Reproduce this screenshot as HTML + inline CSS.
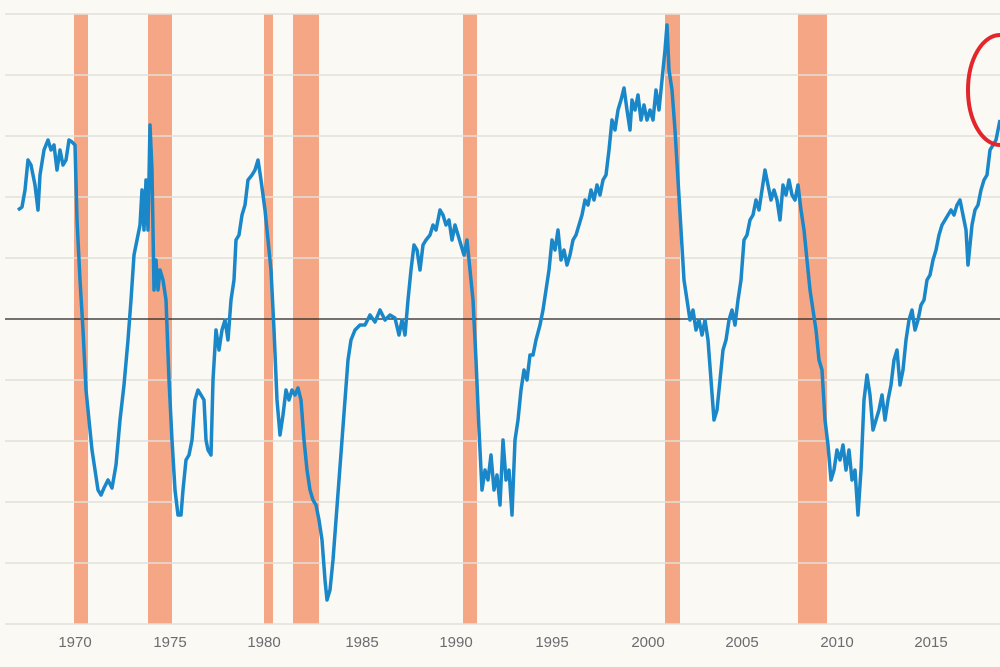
<!DOCTYPE html>
<html><head><meta charset="utf-8"><style>
html,body{margin:0;padding:0;background:#fbf9f4;}
svg{display:block;}
text{font-family:"Liberation Sans",sans-serif;font-size:15px;fill:#6b6b70;}
</style></head><body>
<svg width="1000" height="667" viewBox="0 0 1000 667">
<rect width="1000" height="667" fill="#fbf9f4"/>
<g fill="#f5a785">
<rect x="74" y="14" width="14" height="610"/>
<rect x="148" y="14" width="24" height="610"/>
<rect x="264" y="14" width="9" height="610"/>
<rect x="293" y="14" width="26" height="610"/>
<rect x="463" y="14" width="14" height="610"/>
<rect x="665" y="14" width="15" height="610"/>
<rect x="798" y="14" width="29" height="610"/>
</g>
<g stroke="#e2dfda" stroke-width="1.5">
<line x1="5" x2="1000" y1="14" y2="14"/>
<line x1="5" x2="1000" y1="75" y2="75"/>
<line x1="5" x2="1000" y1="136" y2="136"/>
<line x1="5" x2="1000" y1="197" y2="197"/>
<line x1="5" x2="1000" y1="258" y2="258"/>
<line x1="5" x2="1000" y1="380" y2="380"/>
<line x1="5" x2="1000" y1="441" y2="441"/>
<line x1="5" x2="1000" y1="502" y2="502"/>
<line x1="5" x2="1000" y1="563" y2="563"/>
<line x1="5" x2="1000" y1="624" y2="624"/>
</g>
<line x1="5" x2="1000" y1="319" y2="319" stroke="#222" stroke-width="1.3"/>
<polyline fill="none" stroke="#1a87c9" stroke-width="3.5" stroke-linejoin="round" points="18,210 22,207 25,190 28,160 31,165 35,185 38,210 40,175 44,150 48,140 51,150 54,145 57,170 60,150 63,165 66,160 69,140 72,142 75,145 77,220 80,280 83,330 86,390 89,420 92,450 95,470 98,490 101,495 104,488 108,480 112,488 116,465 120,420 124,385 128,340 131,300 134,255 137,240 140,225 142,190 144,230 146,180 148,230 150,125 152,170 154,290 156,260 158,290 160,270 163,280 166,300 169,380 172,440 175,490 178,515 181,515 183,490 186,460 189,455 192,440 195,400 198,390 201,395 204,400 206,440 208,450 211,455 213,380 216,330 219,350 222,330 225,320 228,340 231,300 234,280 236,240 239,235 242,215 245,205 248,180 252,175 255,170 258,160 261,180 265,210 268,240 271,270 274,330 277,400 280,435 283,415 286,390 289,400 292,390 295,395 298,388 301,400 304,440 307,470 310,490 313,500 316,505 319,520 322,540 325,580 327,600 330,590 333,560 336,520 339,480 342,440 345,400 348,360 351,340 355,330 360,325 365,325 370,315 375,322 380,310 385,320 390,315 395,318 399,335 402,320 405,335 408,300 411,270 414,245 417,250 420,270 423,245 426,240 430,235 433,225 436,230 440,210 443,215 446,225 449,220 452,240 455,225 458,235 461,245 464,255 467,240 470,270 473,300 476,360 479,430 482,490 485,470 488,480 491,455 494,490 497,475 500,505 503,440 506,480 509,470 512,515 515,440 518,420 521,390 524,370 527,380 530,355 533,355 536,340 540,325 543,310 546,290 549,270 552,240 555,250 558,230 561,260 564,250 567,265 570,255 573,240 576,235 579,225 582,215 585,200 588,205 591,190 594,200 597,185 600,195 603,180 606,175 609,150 612,120 615,130 618,110 621,100 624,88 627,110 630,130 632,100 635,110 638,95 641,120 644,105 647,120 650,110 653,120 656,90 659,110 662,80 665,50 667,25 669,70 672,90 675,130 678,180 681,230 684,280 687,300 690,320 693,310 696,330 699,320 702,335 705,320 708,340 711,380 714,420 717,410 720,380 723,350 726,340 729,320 732,310 735,325 738,300 741,280 744,240 747,235 750,220 753,215 756,200 759,210 762,190 765,170 768,185 771,200 774,190 777,200 780,220 783,185 786,195 789,180 792,195 795,200 798,185 801,210 804,230 807,260 810,290 813,310 816,330 819,360 822,370 825,420 828,445 831,480 834,470 837,450 840,460 843,445 846,470 849,450 852,480 855,470 858,515 861,470 864,400 867,375 870,395 873,430 876,420 879,410 882,395 885,420 888,400 891,385 894,360 897,350 900,385 903,370 906,340 909,320 912,310 915,330 918,320 921,305 924,300 927,280 930,275 933,260 936,250 939,235 942,225 945,220 948,215 951,210 954,215 957,205 960,200 963,215 966,230 968,265 970,245 972,225 975,210 978,205 981,190 984,180 987,175 990,150 993,145 996,140 999,125 1000,120"/>
<ellipse cx="1000" cy="90" rx="32" ry="55" fill="none" stroke="#e3262b" stroke-width="4"/>
<g text-anchor="middle">
<text x="75" y="647">1970</text>
<text x="170" y="647">1975</text>
<text x="264" y="647">1980</text>
<text x="362" y="647">1985</text>
<text x="456" y="647">1990</text>
<text x="552" y="647">1995</text>
<text x="648" y="647">2000</text>
<text x="742" y="647">2005</text>
<text x="837" y="647">2010</text>
<text x="931" y="647">2015</text>
</g>
</svg>
</body></html>
